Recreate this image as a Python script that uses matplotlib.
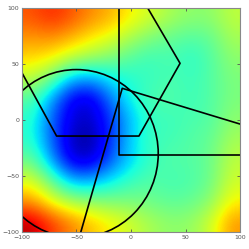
import numpy as np
import matplotlib
matplotlib.use('Agg')
from matplotlib import pyplot as plt
from matplotlib.patches import Circle

# grid of sampled field values (rows: y from 100 down to -100, cols: x from -100 to 100)
xs = [-100, -80, -60, -40, -20, 0, 20, 40, 60, 80, 100]
ys = [100, 80, 60, 40, 20, 0, -20, -40, -60, -80, -100]
field = [
    [0.82, 0.87, 0.82, 0.76, 0.72, 0.65, 0.60, 0.55, 0.52, 0.52, 0.58],
    [0.75, 0.76, 0.72, 0.66, 0.62, 0.55, 0.50, 0.47, 0.45, 0.47, 0.55],
    [0.68, 0.65, 0.58, 0.54, 0.50, 0.45, 0.42, 0.44, 0.40, 0.45, 0.52],
    [0.58, 0.48, 0.30, 0.28, 0.36, 0.40, 0.42, 0.44, 0.42, 0.45, 0.50],
    [0.45, 0.28, 0.10, 0.08, 0.25, 0.38, 0.44, 0.45, 0.42, 0.45, 0.50],
    [0.40, 0.22, 0.08, 0.06, 0.18, 0.32, 0.42, 0.42, 0.44, 0.45, 0.52],
    [0.40, 0.22, 0.05, 0.02, 0.18, 0.34, 0.42, 0.43, 0.45, 0.47, 0.55],
    [0.48, 0.28, 0.08, 0.07, 0.22, 0.34, 0.42, 0.45, 0.45, 0.48, 0.58],
    [0.62, 0.47, 0.30, 0.30, 0.36, 0.42, 0.45, 0.43, 0.44, 0.48, 0.60],
    [0.75, 0.63, 0.55, 0.52, 0.50, 0.50, 0.48, 0.46, 0.47, 0.52, 0.65],
    [0.95, 0.85, 0.77, 0.70, 0.65, 0.60, 0.55, 0.52, 0.53, 0.60, 0.75],
]

# outlines drawn on top
pent_x = [0.5, 45, 7.3, -68.2, -131.8, 0.5]
pent_y = [124.7, 50.6, -14.3, -14.3, 98.7, 124.7]
tri_x = [-46, -8, 100]
tri_y = [-100, 28.3, -3.6]
rect_x = [-11, -11, 120]
rect_y = [120, -31, -31]
circ_center = (-50, -30)
circ_r = 75

fig = plt.figure(figsize=(2.49, 2.49), dpi=100)
ax = fig.add_axes([0.088, 0.068, 0.876, 0.9])

ax.imshow(np.array(field), cmap='jet', vmin=0, vmax=1, interpolation='bicubic',
          extent=[-100, 100, -100, 100], aspect='auto', origin='upper')

ax.plot(pent_x, pent_y, color='black', lw=1.2)
ax.plot(tri_x, tri_y, color='black', lw=1.2)
ax.plot(rect_x, rect_y, color='black', lw=1.2)
ax.add_patch(Circle(circ_center, circ_r, fill=False, color='black', lw=1.2))

ax.set_xlim(-100, 100)
ax.set_ylim(-100, 100)
ax.set_xticks([-100, -50, 0, 50, 100])
ax.set_yticks([-100, -50, 0, 50, 100])
ax.tick_params(direction='in', length=2.5, width=0.6, labelsize=4.5,
               colors='#555555', top=True, right=True, pad=2)
for s in ax.spines.values():
    s.set_color('#888888')
    s.set_linewidth(0.8)

fig.savefig('out.png', dpi=100)
